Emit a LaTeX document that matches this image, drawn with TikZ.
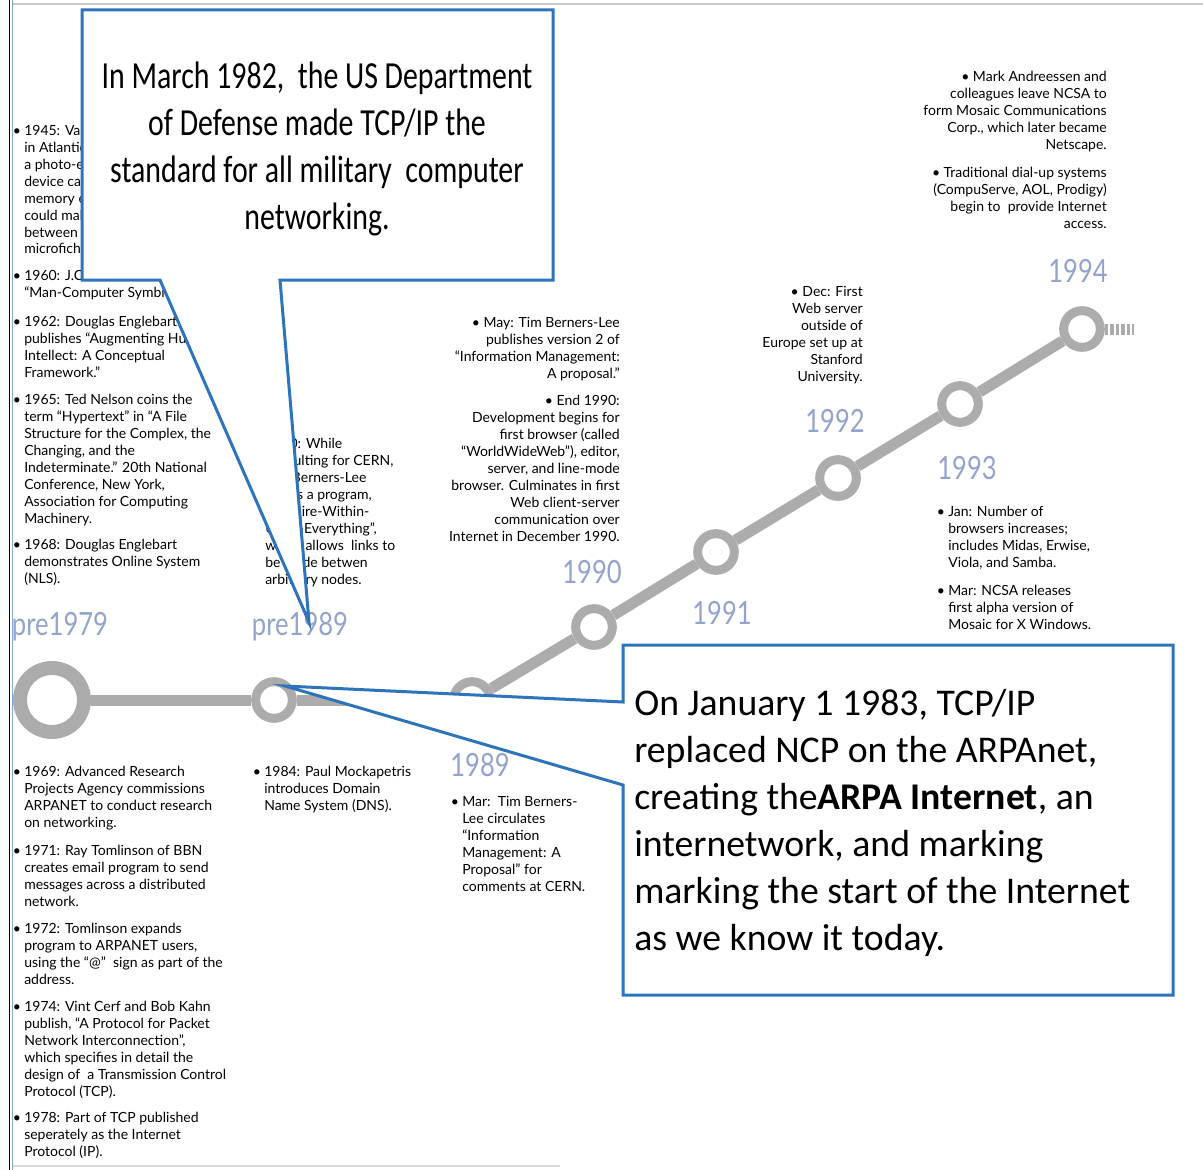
\documentclass[tikz,border=0pt]{standalone}
\usepackage{fontspec}
\setmainfont{Lato}
\newfontfamily\calloutfont{Carlito}
\newfontfamily\calloutnarrow[FakeStretch=0.78]{Carlito}
\newfontfamily\yearfont[FakeStretch=0.8]{Lato}

\definecolor{tlgray}{RGB}{172,172,172}
\definecolor{yrblue}{RGB}{146,163,204}
\definecolor{calblue}{RGB}{46,116,188}

\tikzset{
	tline/.style = {draw=tlgray, line width=8.25pt},
	station/.style = {circle, draw=tlgray, line width=6.75pt, minimum size=27.5pt, inner sep=0pt},
	bigstation/.style = {station, line width=10.5pt, minimum size=48pt},
	yearlbl/.style = {font=\yearfont\fontsize{24}{24}\selectfont, text=yrblue, inner sep=0pt},
	notes/.style = {font=\fontsize{10.5}{12.7}\selectfont, align=left, inner sep=0pt, anchor=north west},
	rnotes/.style = {notes, align=right, anchor=north east},
	callout/.style = {draw=calblue, fill=white, line width=2.25pt, line join=miter},
}
\newcommand{\bul}{\llap{\textbullet\hspace{2.5pt}}}

\begin{document}
\begin{tikzpicture}[x=0.75pt, y=-0.75pt]
	\useasboundingbox (0,0) rectangle (1203,1170);
	% frame
	\draw[black, line width=1pt] (9.5,0) -- (9.5,1170);
	\draw[calblue!60, line width=0.8pt] (12.5,0) -- (12.5,1170);
	\draw[gray!40, line width=0.8pt] (12.5,4) -- (1203,4);
	\draw[gray!30, line width=0.8pt] (12.5,1166) -- (560,1166);

	% notes, left column
	\node[notes] (n1945) at (24,125) {\bul 1945: Van\\ in Atlantic\\ a photo-el\\ device call\\ memory ex\\ could mak\\ between d\\ microfiche.};
	\node[notes] (n1960) at (24,270) {\bul 1960: J.C.R. Licklider writes\\ ``Man-Computer Symbiosis''.};
	\node[notes] (n1962) at (24,316) {\bul 1962: Douglas Englebart\\ publishes ``Augmenting Human\\ Intellect: A Conceptual\\ Framework.''};
	\node[notes] (n1965) at (24,394) {\bul 1965: Ted Nelson coins the\\ term ``Hypertext'' in ``A File\\ Structure for the Complex, the\\ Changing, and the\\ Indeterminate.'' 20th National\\ Conference, New York,\\ Association for Computing\\ Machinery.};
	\node[notes] (n1968) at (24,539) {\bul 1968: Douglas Englebart\\ demonstrates Online System\\ (NLS).};
	\node[notes] (n1969) at (24,766) {\bul 1969: Advanced Research\\ Projects Agency commissions\\ ARPANET to conduct research\\ on networking.};
	\node[notes] (n1971) at (24,845) {\bul 1971: Ray Tomlinson of BBN\\ creates email program to send\\ messages across a distributed\\ network.};
	\node[notes] (n1972) at (24,923) {\bul 1972: Tomlinson expands\\ program to ARPANET users,\\ using the ``@''\ \ sign as part of the\\ address.};
	\node[notes] (n1974) at (24,1001) {\bul 1974: Vint Cerf and Bob Kahn\\ publish, ``A Protocol for Packet\\ Network Interconnection'',\\ which specifies in detail the\\ design of\ \ a Transmission Control\\ Protocol (TCP).};
	\node[notes] (n1978) at (24,1112) {\bul 1978: Part of TCP published\\ seperately as the Internet\\ Protocol (IP).};

	% notes, middle and right
	\node[notes] (n1980) at (265,438) {\bul 1980: While\\ consulting for CERN,\\ Tim Berners-Lee\\ writes a program,\\ ``Enquire-Within-\\ Upon-Everything'',\\ which allows\ \ links to\\ be made betwen\\ arbitrary nodes.};
	\node[notes] (n1984) at (264,766) {\bul 1984: Paul Mockapetris\\ introduces Domain\\ Name System (DNS).};
	\node[notes] (n1989) at (462,796) {\bul Mar:\ \ Tim Berners-\\ Lee circulates\\ ``Information\\ Management: A\\ Proposal'' for\\ comments at CERN.};
	\node[rnotes] (n1990a) at (620,317) {\textbullet\ May: Tim Berners-Lee\\ publishes version 2 of\\ ``Information Management:\\ A proposal.''};
	\node[rnotes] (n1990b) at (620,395) {\textbullet\ End 1990:\\ Development begins for\\ first browser (called\\ ``WorldWideWeb''), editor,\\ server, and line-mode\\ browser. Culminates in first\\ Web client-server\\ communication over\\ Internet in December 1990.};
	\node[rnotes] (n1992) at (863,286) {\textbullet\ Dec: First\\ Web server\\ outside of\\ Europe set up at\\ Stanford\\ University.};
	\node[rnotes] (n1994a) at (1107,71) {\textbullet\ Mark Andreessen and\\ colleagues leave NCSA to\\ form Mosaic Communications\\ Corp., which later became\\ Netscape.};
	\node[rnotes] (n1994b) at (1107,167) {\textbullet\ Traditional dial-up systems\\ (CompuServe, AOL, Prodigy)\\ begin to\ \ provide Internet\\ access.};
	\node[notes] (n1993a) at (948,506) {\bul Jan: Number of\\ browsers increases;\\ includes Midas, Erwise,\\ Viola, and Samba.};
	\node[notes] (n1993b) at (948,585) {\bul Mar: NCSA releases\\ first alpha version of\\ Mosaic for X Windows.};

	% timeline
	\node[bigstation] (p79) at (52,700) {};
	\node[station] (p89) at (274,700) {};
	\node[station] (y89) at (472,700) {};
	\node[station] (y90) at (594,627) {};
	\node[station] (y91) at (716,552) {};
	\node[station] (y92) at (838,478) {};
	\node[station] (y93) at (960,404) {};
	\node[station] (y94) at (1082,329) {};
	\coordinate (tlend) at (1134,329);
	\draw[tline] (p79) -- (p89);
	\draw[tline] (p89) -- (y89);
	\draw[tline] (y89) -- (y90);
	\draw[tline] (y90) -- (y91);
	\draw[tline] (y91) -- (y92);
	\draw[tline] (y92) -- (y93);
	\draw[tline] (y93) -- (y94);
	\draw[tline, dash pattern=on 2.5pt off 1.6pt] (y94) -- (tlend);

	\node[yearlbl] (l79) at (60,627) {pre1979};
	\node[yearlbl] (l89p) at (300,627) {pre1989};
	\node[yearlbl] (l89) at (480,765) {1989};
	\node[yearlbl] (l90) at (592,572) {1990};
	\node[yearlbl] (l91) at (722,613) {1991};
	\node[yearlbl] (l92) at (835,421) {1992};
	\node[yearlbl] (l93) at (967,468) {1993};
	\node[yearlbl] (l94) at (1078,271) {1994};

	% callouts
	\draw[callout] (82,10) -- (553,10) -- (553,280) -- (280,280) -- (309,622) -- (160,280) -- (82,280) -- cycle;
	\node[anchor=north, align=center, inner sep=0pt, font=\calloutnarrow\fontsize{28.7}{35.25}\selectfont] (dodnote) at (317,62) {In March 1982,\ \ the US Department\\ of Defense made TCP/IP the\\ standard for all military\ \ computer\\ networking.};
	\draw[callout] (623,645) -- (1173,645) -- (1173,995) -- (623,995) -- (623,785) -- (285,686) -- (623,702) -- cycle;
	\node[anchor=north west, align=left, inner sep=0pt, font=\calloutfont\fontsize{28.3}{35.25}\selectfont] (arpanote) at (634,689) {On January 1 1983, TCP/IP\\ replaced NCP on the ARPAnet,\\ creating the\textbf{ARPA Internet}, an\\ internetwork, and marking\\ marking the start of the Internet\\ as we know it today.};
\end{tikzpicture}
\end{document}
